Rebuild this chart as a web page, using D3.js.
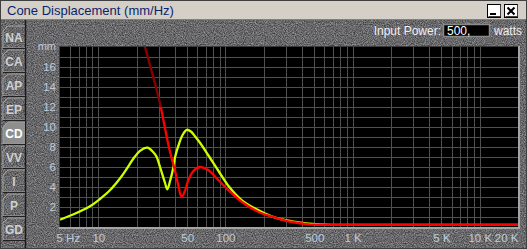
<!DOCTYPE html>
<html>
<head>
<meta charset="utf-8">
<script src="https://cdn.jsdelivr.net/npm/d3@7"></script>
<style>
  body { margin: 0; background: #6a6a6a; }
  svg { display: block; }
</style>
</head>
<body>
<script>
// series (Hz, mm)
const yellowFreq = [5, 6.4, 8.6, 10.3, 12.4, 14.8, 16.8, 18.8, 21.3, 24.4, 27, 28.8, 30.6, 33.5, 34.9, 36.7, 39, 40.2, 43.1, 46, 49.7, 53.5, 57.8, 63.3, 73.5, 88.2, 105.7, 134.8, 182, 246, 334, 451, 610, 1000, 20000];
const yellowMm   = [0.74, 1.27, 2.07, 2.8, 3.7, 4.85, 5.85, 6.8, 7.62, 7.94, 7.5, 7.0, 6.0, 4.4, 3.77, 4.6, 6.0, 7.0, 8.3, 9.2, 9.72, 9.55, 9.05, 8.4, 7.15, 5.6, 4.1, 2.67, 1.67, 0.94, 0.57, 0.34, 0.24, 0.22, 0.22];

const redFreq = [18, 20, 23.3, 26, 28, 31, 34.8, 36.7, 39.2, 40.2, 42.7, 45.2, 48, 51, 56, 63.3, 73.5, 88.2, 105.7, 134.8, 182, 246, 334, 451, 610, 1000, 20000];
const redMm   = [23.5, 21.2, 18.0, 15.8, 14.3, 12.0, 8.8, 7.5, 6.1, 5.6, 4.1, 3.0, 3.6, 4.67, 5.6, 6.0, 5.67, 4.67, 3.67, 2.5, 1.5, 0.94, 0.5, 0.27, 0.22, 0.22, 0.22];

const xTickValues = [5, 10, 50, 100, 500, 1000, 5000, 10000, 20000];
const xTickLabels = ["5 Hz", "10", "50", "100", "500", "1 K", "5 K", "10 K", "20 K"];
const yTickValues = [2, 4, 6, 8, 10, 12, 14, 16];
const gridFreqs = [6, 7, 8, 9, 10, 20, 30, 40, 50, 60, 70, 80, 90, 100, 200, 300, 400, 500, 600, 700, 800, 900, 1000, 2000, 3000, 4000, 5000, 6000, 7000, 8000, 9000, 10000];
const gridMm = d3.range(1, 18);
const tabs = ["NA", "CA", "AP", "EP", "CD", "VV", "I", "P", "GD"];
const activeTab = "CD";
const dangerMm = 12; // above this the curve is drawn dark

const width = 527, height = 249;
const plot = { left: 60, right: 518, top: 47, bottom: 227 };

const x = d3.scaleLog().domain([5, 20000]).range([plot.left, plot.right]);
const y = d3.scaleLinear().domain([0, 18]).range([plot.bottom, plot.top]);

const svg = d3.select("body").append("svg")
  .attr("width", width)
  .attr("height", height);

const defs = svg.append("defs");

// granite texture
const grain = defs.append("filter").attr("id", "grain")
  .attr("x", 0).attr("y", 0).attr("width", "100%").attr("height", "100%")
  .attr("color-interpolation-filters", "sRGB");
grain.append("feTurbulence")
  .attr("type", "fractalNoise")
  .attr("baseFrequency", 0.9)
  .attr("numOctaves", 2)
  .attr("seed", 7);
grain.append("feColorMatrix")
  .attr("type", "matrix")
  .attr("values", "0.6 0 0 0 0.11  0.6 0 0 0 0.11  0.6 0 0 0 0.12  0 0 0 0 1");

svg.append("rect")
  .attr("width", width).attr("height", height)
  .attr("filter", "url(#grain)");

// title bar
svg.append("rect")
  .attr("x", 0).attr("y", 0).attr("width", width).attr("height", 19)
  .attr("fill", "#d4d0c8");
svg.append("line")
  .attr("x1", 0).attr("x2", width).attr("y1", 19.5).attr("y2", 19.5)
  .attr("stroke", "#808080");
svg.append("text")
  .attr("x", 7).attr("y", 14.5)
  .attr("font-family", "Liberation Sans, Arial, sans-serif")
  .attr("font-size", 13)
  .attr("fill", "#0c1f6b")
  .text("Cone Displacement (mm/Hz)");

// window buttons
const btns = [{ x: 487 }, { x: 504 }];
btns.forEach(b => {
  svg.append("rect")
    .attr("x", b.x + 0.5).attr("y", 4.5).attr("width", 13).attr("height", 13)
    .attr("fill", "#ffffff").attr("stroke", "#000");
  svg.append("path")
    .attr("d", `M${b.x + 1.5},16.5H${b.x + 13.5}V4.5`)
    .attr("fill", "none").attr("stroke", "#404040");
});
svg.append("rect").attr("x", 490).attr("y", 13).attr("width", 6).attr("height", 2).attr("fill", "#000");
svg.append("path")
  .attr("d", "M507.5,7.5L514.5,14.5M514.5,7.5L507.5,14.5")
  .attr("stroke", "#000").attr("stroke-width", 2);

// left tabs
svg.append("line")
  .attr("x1", 25.5).attr("x2", 25.5).attr("y1", 20).attr("y2", height)
  .attr("stroke", "#1c1c1c").attr("stroke-width", 1.5);

tabs.forEach((t, i) => {
  const cy = 37 + 24 * i;
  const top = cy - 11, bot = cy + 11;
  const active = t === activeTab;
  svg.append("path")
    .attr("d", `M25,${top}H8L3,${top + 5}V${bot}H25`)
    .attr("fill", active ? "#8e8e8e" : "none")
    .attr("stroke", "#a0a0a0")
    .attr("stroke-width", 1);
  svg.append("line")
    .attr("x1", 3).attr("x2", 25).attr("y1", bot + 0.5).attr("y2", bot + 0.5)
    .attr("stroke", "#202020");
  svg.append("text")
    .attr("x", 14).attr("y", cy + 4.5)
    .attr("text-anchor", "middle")
    .attr("font-family", "Liberation Sans, Arial, sans-serif")
    .attr("font-weight", "bold")
    .attr("font-size", 12)
    .attr("fill", active ? "#ffffff" : "#d0d0d0")
    .text(t);
});

// input power
const labelFont = "Liberation Sans, Arial, sans-serif";
svg.append("text")
  .attr("x", 441).attr("y", 35)
  .attr("text-anchor", "end")
  .attr("font-family", labelFont).attr("font-size", 12)
  .attr("fill", "#eeeef4")
  .text("Input Power:");
svg.append("rect")
  .attr("x", 443.5).attr("y", 24.5).attr("width", 46).attr("height", 12)
  .attr("fill", "#000").attr("stroke", "#8a8a8a").attr("stroke-width", 1.5);
svg.append("text")
  .attr("x", 447).attr("y", 34.5)
  .attr("font-family", labelFont).attr("font-size", 12)
  .attr("fill", "#ffffff")
  .text("500,");
svg.append("text")
  .attr("x", 494).attr("y", 35)
  .attr("font-family", labelFont).attr("font-size", 12)
  .attr("fill", "#eeeef4")
  .text("watts");

// plot background
svg.append("rect")
  .attr("x", plot.left).attr("y", plot.top)
  .attr("width", plot.right - plot.left).attr("height", plot.bottom - plot.top)
  .attr("fill", "#000");

// grid
const grid = svg.append("g").attr("stroke", "#505050").attr("stroke-width", 1);
grid.selectAll("line.v")
  .data(gridFreqs)
  .join("line")
    .attr("class", "v")
    .attr("x1", d => Math.round(x(d)) + 0.5)
    .attr("x2", d => Math.round(x(d)) + 0.5)
    .attr("y1", plot.top)
    .attr("y2", plot.bottom);
grid.selectAll("line.h")
  .data(gridMm)
  .join("line")
    .attr("class", "h")
    .attr("x1", plot.left)
    .attr("x2", plot.right)
    .attr("y1", d => Math.round(y(d)) + 0.5)
    .attr("y2", d => Math.round(y(d)) + 0.5);

// plot frame (bevel)
svg.append("path")
  .attr("d", `M${plot.left - 0.5},${plot.bottom}V${plot.top - 0.5}H${plot.right}`)
  .attr("fill", "none").attr("stroke", "#3a3a3a");
svg.append("path")
  .attr("d", `M${plot.left - 1},${plot.bottom + 1}H${plot.right + 1}V${plot.top - 1}`)
  .attr("fill", "none").attr("stroke", "#a4a4a4").attr("stroke-width", 2);

// curves: clip into normal and "over limit" zones
defs.append("clipPath").attr("id", "clipLow")
  .append("rect")
    .attr("x", plot.left).attr("y", y(dangerMm))
    .attr("width", plot.right - plot.left).attr("height", plot.bottom - y(dangerMm));
defs.append("clipPath").attr("id", "clipHigh")
  .append("rect")
    .attr("x", plot.left).attr("y", plot.top)
    .attr("width", plot.right - plot.left).attr("height", y(dangerMm) - plot.top);

const line = d3.line()
  .x(d => x(d[0]))
  .y(d => y(d[1]))
  .curve(d3.curveCatmullRom.alpha(0.5));

const series = [
  { data: d3.zip(yellowFreq, yellowMm), color: "#ccff00", dark: "#7a9900" },
  { data: d3.zip(redFreq, redMm), color: "#ff0000", dark: "#8a0000" }
];

series.forEach(s => {
  svg.append("path")
    .attr("clip-path", "url(#clipLow)")
    .attr("d", line(s.data))
    .attr("fill", "none")
    .attr("stroke", s.color)
    .attr("stroke-width", 2.3);
  svg.append("path")
    .attr("clip-path", "url(#clipHigh)")
    .attr("d", line(s.data))
    .attr("fill", "none")
    .attr("stroke", s.dark)
    .attr("stroke-width", 2.3);
});

// axes
const tickColor = "#c0cadc";
const xAxis = svg.append("g")
  .attr("transform", `translate(0,${plot.bottom})`)
  .call(d3.axisBottom(x)
    .tickValues(xTickValues)
    .tickFormat((d, i) => xTickLabels[i])
    .tickSize(0)
    .tickPadding(5));
xAxis.select(".domain").remove();
xAxis.selectAll("text")
  .attr("font-family", labelFont)
  .attr("font-size", 11.5)
  .attr("fill", tickColor)
  .attr("dy", "0.9em")
  .attr("text-anchor", (d, i) => i === 0 ? "start" : i === xTickValues.length - 1 ? "end" : "middle")
  .attr("dx", (d, i) => i === 0 ? -4 : 0);

const yAxis = svg.append("g")
  .attr("transform", `translate(${plot.left},0)`)
  .call(d3.axisLeft(y)
    .tickValues(yTickValues)
    .tickSize(0)
    .tickPadding(4));
yAxis.select(".domain").remove();
yAxis.selectAll("text")
  .attr("font-family", labelFont)
  .attr("font-size", 11.5)
  .attr("fill", tickColor);

svg.append("text")
  .attr("x", 56).attr("y", 50)
  .attr("text-anchor", "end")
  .attr("font-family", labelFont)
  .attr("font-size", 11)
  .attr("fill", tickColor)
  .text("mm");

// outer window border
svg.append("rect")
  .attr("x", 0.5).attr("y", 0.5).attr("width", width - 1).attr("height", height - 1)
  .attr("fill", "none").attr("stroke", "#404040");
</script>
</body>
</html>
